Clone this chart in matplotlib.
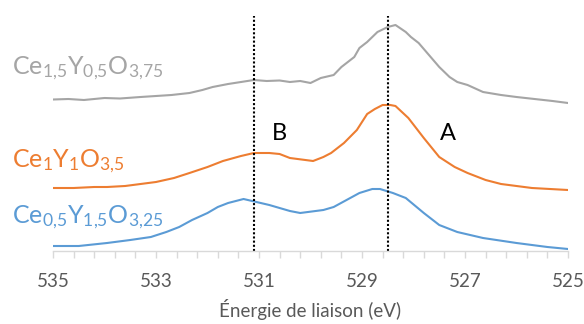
import numpy as np
import matplotlib
matplotlib.use("Agg")
import matplotlib.pyplot as plt

plt.rcParams['font.family'] = ['Lato', 'DejaVu Sans']
plt.rcParams['mathtext.fontset'] = 'custom'
plt.rcParams['mathtext.rm'] = 'Lato'
plt.rcParams['mathtext.it'] = 'Lato'
plt.rcParams['mathtext.bf'] = 'Lato'

# O 1s spectra (binding energy in eV, stacked intensity in arbitrary units)
e_ce15 = [535.0, 534.7, 534.4, 534.0, 533.7, 533.3, 533.0, 532.7, 532.35, 532.1,
          531.9, 531.6, 531.35, 531.1, 530.85, 530.6, 530.4, 530.2, 530.0, 529.8,
          529.55, 529.4, 529.15, 529.05, 528.9, 528.7, 528.5, 528.35, 528.15, 528.05,
          527.9, 527.7, 527.5, 527.3, 527.15, 526.95, 526.65, 526.3, 526.0, 525.65,
          525.3, 525.0]
i_ce15 = [151.5, 152, 151, 153, 152.5, 154, 155, 156, 158, 161,
          164, 167, 169, 171, 170, 170.5, 169, 170, 168, 173,
          176, 184, 194, 203, 209, 219, 224, 226, 219, 214,
          208, 196, 184, 174, 169, 166, 159, 156, 154, 152,
          150, 148]

e_ce10 = [535.0, 534.6, 534.2, 533.95, 533.6, 533.3, 533.0, 532.65, 532.35, 532.0,
          531.7, 531.35, 531.1, 530.8, 530.6, 530.4, 530.1, 529.95, 529.75, 529.6,
          529.35, 529.1, 528.9, 528.75, 528.6, 528.45, 528.35, 528.1, 527.8, 527.5,
          527.2, 526.95, 526.6, 526.3, 526.0, 525.7, 525.35, 525.0]
i_ce10 = [63, 63, 64, 64, 65, 67, 69, 73, 78, 84,
          90, 95, 98, 98, 97, 93, 91, 90, 94, 98,
          108, 121, 137, 142, 146, 146, 145, 133, 113, 94,
          84, 78, 71, 67, 65, 63, 62, 61]

e_ce05 = [535.0, 534.5, 533.95, 533.5, 533.1, 532.8, 532.55, 532.3, 532.0, 531.8,
          531.6, 531.3, 531.05, 530.8, 530.6, 530.4, 530.2, 530.05, 529.75, 529.55,
          529.3, 529.05, 528.8, 528.65, 528.4, 528.15, 527.8, 527.5, 527.15, 526.65,
          526.0, 525.4, 525.0]
i_ce05 = [5, 5, 8, 11, 14, 19, 24, 31, 38, 44,
          48, 52, 49, 46, 43, 40, 38, 39, 41, 44,
          51, 58, 62, 62, 58, 53, 38, 26, 19, 13,
          8, 4, 2]

series = [
    (e_ce15, i_ce15, '#a5a5a5', r'Ce$_{1{,}5}$Y$_{0{,}5}$O$_{3{,}75}$', 177),
    (e_ce10, i_ce10, '#ed7d31', r'Ce$_{1}$Y$_{1}$O$_{3{,}5}$', 84),
    (e_ce05, i_ce05, '#5b9bd5', r'Ce$_{0{,}5}$Y$_{1{,}5}$O$_{3{,}25}$', 28),
]

peak_lines = [531.1, 528.5]
peak_names = ['B', 'A']
peak_label_x = [530.6, 527.33]
peak_label_y = 117

tick_labels = ['535', '533', '531', '529', '527', '525']

W, H = 584, 324
fig = plt.figure(figsize=(W / 100, H / 100), dpi=100)
ax = fig.add_axes([53 / W, 73 / H, 515 / W, 235 / H])

for e, i, c, lab, ly in series:
    ax.plot(e, i, color=c, lw=1.5, solid_capstyle='round')
    ax.text(-41 / 515, ly, lab, color=c, fontsize=18, transform=ax.get_yaxis_transform(),
            ha='left', va='baseline', clip_on=False)

for xv in peak_lines:
    ax.axvline(xv, color='black', lw=1.5, ls=(0, (1, 1)))

for xv, name in zip(peak_label_x, peak_names):
    ax.text(xv, peak_label_y, name, fontsize=17, color='black', ha='center', va='center')

ax.set_xlim(535, 525)
ax.set_ylim(0, 235)

for s in ['top', 'right', 'left']:
    ax.spines[s].set_visible(False)
ax.spines['bottom'].set_color('#d9d9d9')
ax.spines['bottom'].set_linewidth(1.0)
ax.set_yticks([])

ax.set_xticks([float(t) for t in tick_labels])
ax.set_xticklabels(tick_labels)
ax.set_xticks(np.linspace(525, 535, 26), minor=True)
ax.tick_params(axis='x', which='both', direction='out', length=5, width=1.0,
               color='#d9d9d9', labelcolor='#595959', labelsize=13.5, pad=11)
ax.tick_params(axis='x', which='minor', labelbottom=False)

ax.set_xlabel('Énergie de liaison (eV)', fontsize=13.5, color='#595959', labelpad=6)

fig.savefig('out.png', dpi=100)
